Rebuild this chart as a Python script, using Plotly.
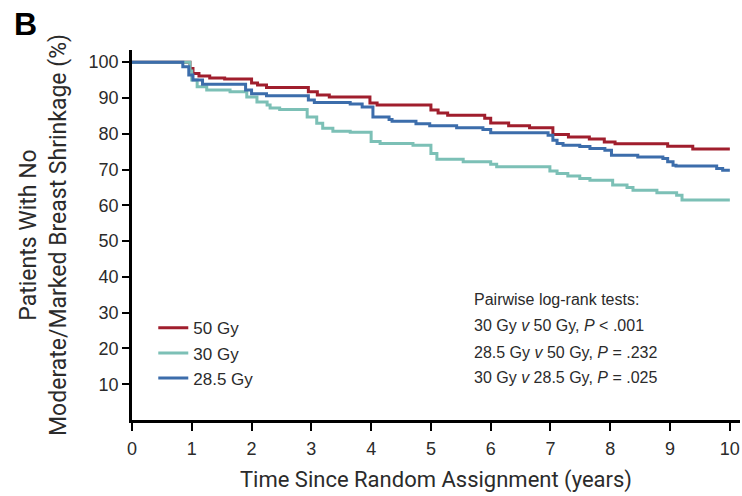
import plotly.graph_objects as go

# ---- data ----
series_names = ["50 Gy", "30 Gy", "28.5 Gy"]

t_50 = [0, 0.97, 1.02, 1.12, 1.3, 1.55, 2.0, 2.1, 2.25, 2.95, 3.1, 3.3, 3.98, 4.1,
        5.0, 5.12, 5.28, 5.9, 6.0, 6.3, 6.65, 7.04, 7.3, 7.65, 7.9, 8.08, 8.96, 9.38, 10.0]
v_50 = [100, 98.2, 96.8, 96.1, 95.6, 95.3, 94.2, 93.6, 92.9, 91.7, 90.8, 90.3, 88.6, 88.0,
        86.6, 85.8, 85.2, 84.3, 83.0, 82.2, 81.7, 79.8, 79.1, 78.5, 77.7, 77.2, 76.5, 75.7, 75.7]

t_30 = [0, 0.97, 1.0, 1.09, 1.25, 1.64, 1.92, 2.09, 2.26, 2.31, 2.47, 2.93, 3.09, 3.19,
        3.36, 3.65, 4.0, 4.15, 4.7, 5.0, 5.1, 5.54, 6.0, 6.1, 6.99, 7.11, 7.29, 7.49,
        7.66, 8.04, 8.28, 8.38, 8.78, 9.11, 9.2, 10.0]
v_30 = [100, 97.5, 95.0, 93.1, 92.2, 91.7, 90.3, 88.9, 88.0, 87.2, 86.8, 84.7, 82.9, 81.5,
        80.7, 80.4, 77.8, 77.3, 76.8, 74.5, 72.9, 72.2, 71.5, 70.8, 69.6, 68.9, 68.2, 67.5,
        67.0, 65.7, 65.0, 64.2, 63.5, 62.8, 61.5, 61.5]

t_285 = [0, 0.85, 0.95, 1.02, 1.18, 1.9, 2.0, 2.25, 2.95, 3.05, 3.65, 3.85, 4.03, 4.3,
         4.35, 4.75, 4.98, 5.43, 5.87, 6.0, 6.96, 7.04, 7.11, 7.21, 7.49, 7.66, 7.91,
         8.02, 8.46, 8.88, 8.96, 9.05, 9.1, 9.78, 9.88, 10.0]
v_285 = [100, 98.7, 96.4, 95.0, 93.8, 92.2, 91.2, 90.6, 89.4, 88.7, 88.3, 87.5, 84.7, 84.0,
         83.5, 82.8, 82.2, 81.7, 81.2, 80.3, 79.6, 78.2, 77.3, 76.8, 76.4, 75.9, 75.4,
         74.0, 73.5, 73.1, 72.2, 71.2, 71.0, 70.3, 69.8, 69.8]

x_ticks = list(range(0, 11))
y_ticks = list(range(10, 101, 10))

test_lines = [
    "Pairwise log-rank tests:",
    "30 Gy <i>v</i> 50 Gy, <i>P</i> &lt; .001",
    "28.5 Gy <i>v</i> 50 Gy, <i>P</i> = .232",
    "30 Gy <i>v</i> 28.5 Gy, <i>P</i> = .025",
]
test_y = [33.8, 26.3, 19.0, 12.0]
test_x = 5.69

colors = ["#a01e2d", "#7cc0b6", "#3c6dab"]

W, H = 742, 496
ML, MR, MT, MB = 132, 2, 50, 76
PW, PH = W - ML - MR, H - MT - MB

fig = go.Figure()
for name, tx, vy, c in zip(series_names, [t_50, t_30, t_285], [v_50, v_30, v_285], colors):
    fig.add_trace(go.Scatter(x=tx, y=vy, mode="lines", name=name,
                             line=dict(color=c, width=3, shape="hv")))

for txt, yy in zip(test_lines, test_y):
    fig.add_annotation(x=test_x, y=yy, xref="x", yref="y", text=txt, showarrow=False,
                       xanchor="left", yanchor="middle",
                       font=dict(family="Liberation Sans, Arial, sans-serif", size=16, color="#2b2b2b"))

fig.add_annotation(xref="paper", yref="paper", x=(25 - ML) / PW, y=1 + (MT - 24) / PH,
                   text="<b>B</b>", showarrow=False, xanchor="center", yanchor="middle",
                   font=dict(family="Liberation Sans, Arial, sans-serif", size=32, color="#000"))

x_title_font = dict(family="Roboto, Liberation Sans, sans-serif", size=22, color="#2b2b2b")
y_title_font = dict(family="Roboto, Liberation Sans, sans-serif", size=23, color="#2b2b2b")
tick_font = dict(family="Liberation Sans, Arial, sans-serif", size=18, color="#2b2b2b")

fig.update_layout(
    width=W, height=H,
    margin=dict(l=ML, r=MR, t=MT, b=MB, autoexpand=False),
    paper_bgcolor="white", plot_bgcolor="white",
    showlegend=True,
    legend=dict(x=0.035, y=0.2965, xanchor="left", yanchor="top",
                font=dict(family="Liberation Sans, Arial, sans-serif", size=17, color="#2b2b2b"),
                bgcolor="rgba(0,0,0,0)"),
    xaxis=dict(range=[0, 10.17], tickvals=x_ticks, ticktext=[str(v) for v in x_ticks],
               showline=True, linecolor="black", linewidth=2.5, ticks="outside",
               ticklen=8, tickwidth=2, tickcolor="black", showgrid=False, zeroline=False,
               tickfont=tick_font, automargin=False, ticklabelstandoff=3,
               title=dict(text="Time Since Random Assignment (years)", font=x_title_font, standoff=14)),
    yaxis=dict(range=[0, 103.4], tickvals=y_ticks, ticktext=[str(v) for v in y_ticks],
               showline=True, linecolor="black", linewidth=2.5, ticks="outside",
               ticklen=7, tickwidth=2, tickcolor="black", showgrid=False, zeroline=False,
               tickfont=tick_font, automargin=False,
               title=dict(text="Patients With No<br>Moderate/Marked Breast Shrinkage (%)",
                          font=y_title_font, standoff=16)),
)

fig.write_html("out.html", config={"displayModeBar": False},
               post_script="document.body.style.margin='0';")
